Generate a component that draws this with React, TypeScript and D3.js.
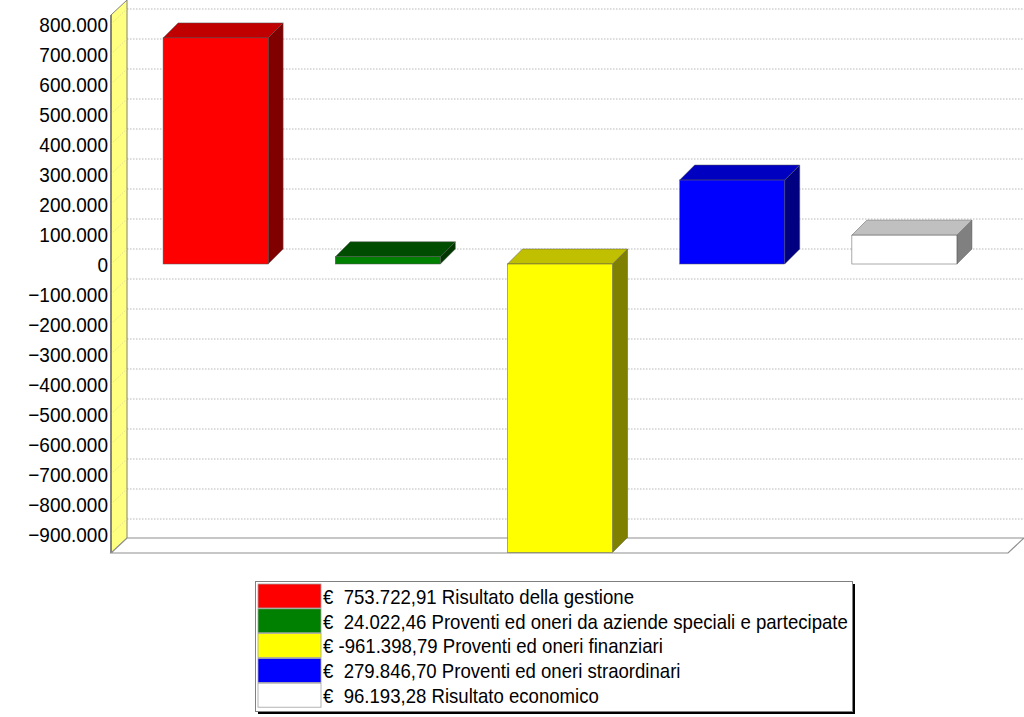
import React from "react";
import * as d3 from "d3";

const categories = [
  "Risultato della gestione",
  "Proventi ed oneri da aziende speciali e partecipate",
  "Proventi ed oneri finanziari",
  "Proventi ed oneri straordinari",
  "Risultato economico",
];
const values = [753722.91, 24022.46, -961398.79, 279846.7, 96193.28];
const valueLabels = ["€  753.722,91", "€  24.022,46", "€ -961.398,79", "€  279.846,70", "€  96.193,28"];
const tickValues = [800000, 700000, 600000, 500000, 400000, 300000, 200000, 100000, 0, -100000, -200000, -300000, -400000, -500000, -600000, -700000, -800000, -900000];
const frontColors = ["#ff0000", "#008000", "#ffff00", "#0000ff", "#ffffff"];
const topColors = ["#c00000", "#004c00", "#c0c000", "#0000c0", "#c0c0c0"];
const sideColors = ["#800000", "#003800", "#808000", "#000080", "#808080"];

const W = 1024;
const H = 717;
const DX = 15;
const DY = 15;

const fmt = (v: number) => (v === 0 ? "0" : d3.format(",")(v).replace(/,/g, "."));

export default function App() {
  const y = d3.scaleLinear().domain([-900000, 800000]).range([534, 24]);
  const axisTop = 15;
  const axisBottom = 553;
  const wallX = 111;
  const floorRight = 1008;
  const x = d3
    .scaleBand<string>()
    .domain(categories)
    .range([129.5, 990.5])
    .paddingInner(0.39)
    .paddingOuter(0.195);
  const y0 = y(0);

  return (
    <svg width={W} height={H} style={{ position: "absolute", left: 0, top: 0, background: "#fff" }} fontFamily="'Liberation Sans', Arial, sans-serif">
      {/* back gridlines */}
      {tickValues.map((t) => (
        <g key={t}>
          <line x1={wallX + DX + 1} x2={W} y1={y(t) - DY} y2={y(t) - DY} stroke="#b8b8b8" strokeWidth={1} strokeDasharray="1.5,1.5" />
        </g>
      ))}
      {/* left wall */}
      <polygon
        points={`${wallX},${axisTop} ${wallX + DX + 1},${axisTop - DY} ${wallX + DX + 1},${axisBottom - DY} ${wallX},${axisBottom}`}
        fill="#ffff80"
        stroke="#808080"
        strokeWidth={1}
      />
      {tickValues.map((t) => (
        <line key={"w" + t} x1={wallX} y1={y(t)} x2={wallX + DX + 1} y2={y(t) - DY} stroke="#d8d890" strokeWidth={0.8} strokeDasharray="1.5,1.5" />
      ))}
      <line x1={wallX} y1={axisTop} x2={wallX} y2={axisBottom} stroke="#606060" strokeWidth={1.2} />
      {/* floor */}
      <polygon
        points={`${wallX},${axisBottom} ${wallX + DX + 1},${axisBottom - DY} ${W},${axisBottom - DY} ${floorRight},${axisBottom}`}
        fill="#ffffff"
        stroke="#909090"
        strokeWidth={1.2}
      />
      {/* bars */}
      {values.map((v, i) => {
        const x0 = x(categories[i]) as number;
        const x1 = x0 + x.bandwidth();
        const top = Math.min(y0, y(v));
        const bot = Math.max(y0, y(v));
        return (
          <g key={i}>
            <polygon
              points={`${x1},${top} ${x1 + DX},${top - DY} ${x1 + DX},${bot - DY} ${x1},${bot}`}
              fill={sideColors[i]}
              stroke="#555"
              strokeWidth={0.5}
            />
            <polygon
              points={`${x0},${top} ${x0 + DX},${top - DY} ${x1 + DX},${top - DY} ${x1},${top}`}
              fill={topColors[i]}
              stroke="#555"
              strokeWidth={0.5}
            />
            <rect x={x0} y={top} width={x1 - x0} height={bot - top} fill={frontColors[i]} stroke="#555" strokeWidth={0.5} />
          </g>
        );
      })}
      {/* y labels */}
      {tickValues.map((t) => (
        <text
          key={"l" + t}
          transform={`translate(108,${y(t)}) scale(0.905,1)`}
          dy="0.36em"
          textAnchor="end"
          fontSize={21}
          fill="#000"
        >
          {fmt(t)}
        </text>
      ))}
      {/* legend */}
      <rect x={258} y={584} width={597} height={130} fill="#000" />
      <rect x={255.5} y={581.5} width={597} height={130} fill="#fff" stroke="#808080" strokeWidth={1} />
      {categories.map((c, i) => {
        const ry = 584 + i * 24.8;
        return (
          <g key={"lg" + i}>
            <rect x={258} y={ry} width={63} height={24} fill={frontColors[i]} stroke="#a0a0a0" strokeWidth={0.8} />
            <text
              transform={`translate(323,${ry + 12.5}) scale(0.93,1)`}
              dy="0.36em"
              fontSize={20}
              fill="#000"
              style={{ whiteSpace: "pre" }}
            >
              {valueLabels[i] + " " + c}
            </text>
          </g>
        );
      })}
    </svg>
  );
}
